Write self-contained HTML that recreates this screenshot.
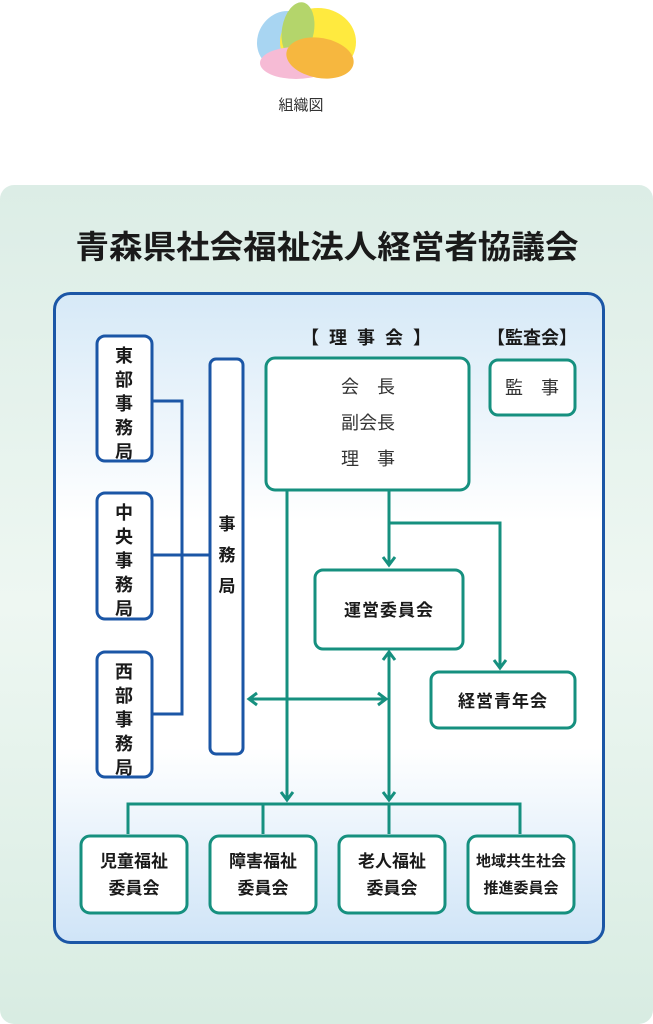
<!DOCTYPE html>
<html><head><meta charset="utf-8"><style>
html,body{margin:0;padding:0;background:#fff;}
svg{display:block;}
text{font-family:"Liberation Sans","Noto Sans CJK JP",sans-serif;}
</style></head><body>
<svg width="653" height="1024" viewBox="0 0 653 1024" xmlns="http://www.w3.org/2000/svg">
<defs>
<linearGradient id="outer" x1="0" y1="0" x2="0" y2="1">
<stop offset="0" stop-color="#dcede6"/><stop offset="0.5" stop-color="#eef7f2"/><stop offset="1" stop-color="#d8ece2"/>
</linearGradient>
<linearGradient id="inner" x1="0" y1="0" x2="0" y2="1">
<stop offset="0" stop-color="#d6e9f7"/><stop offset="0.35" stop-color="#ffffff"/><stop offset="0.7" stop-color="#ffffff"/><stop offset="1" stop-color="#cfe4f7"/>
</linearGradient>
</defs>
<g opacity="0.75">
<ellipse cx="285" cy="40" rx="27" ry="30" transform="rotate(35 285 40)" fill="#8cc8ee"/>
<ellipse cx="318" cy="42" rx="38" ry="34" fill="#ffe300"/>
<ellipse cx="298" cy="30" rx="16" ry="28" transform="rotate(10 298 30)" fill="#9cc83a"/>
<ellipse cx="296" cy="63" rx="36" ry="16" fill="#f3a5c8"/>
<ellipse cx="320" cy="58" rx="34" ry="20" transform="rotate(10 320 58)" fill="#f3a000"/>
</g>
<text x="301" y="110" font-size="15" fill="#333" text-anchor="middle">組織図</text>

<rect x="0" y="185" width="653" height="839" rx="14" fill="url(#outer)"/>
<text x="327" y="258" font-size="32" font-weight="bold" fill="#1a1a1a" text-anchor="middle" textLength="503" lengthAdjust="spacingAndGlyphs">青森県社会福祉法人経営者協議会</text>

<rect x="54.5" y="293.5" width="549" height="649" rx="16" fill="url(#inner)" stroke="#1b56a6" stroke-width="3"/>

<g stroke="#1b56a6" stroke-width="3" fill="none">
<path d="M153 401 H182 V714 H153 M153 555 H209"/>
</g>
<g fill="#fff" stroke="#1b56a6" stroke-width="3">
<rect x="97" y="336" width="55" height="125" rx="8"/>
<rect x="97" y="493" width="55" height="126" rx="8"/>
<rect x="97" y="652" width="55" height="125" rx="8"/>
<rect x="210" y="359" width="33" height="395" rx="6"/>
</g>
<g font-size="18" font-weight="bold" fill="#1a1a1a" text-anchor="middle">
<text x="124" y="362">東</text><text x="124" y="386">部</text><text x="124" y="410">事</text><text x="124" y="434">務</text><text x="124" y="458">局</text>
<text x="124" y="519">中</text><text x="124" y="543">央</text><text x="124" y="567">事</text><text x="124" y="591">務</text><text x="124" y="615">局</text>
<text x="124" y="678">西</text><text x="124" y="702">部</text><text x="124" y="726">事</text><text x="124" y="750">務</text><text x="124" y="774">局</text>
<text x="227" y="530" font-size="17">事</text><text x="227" y="561" font-size="17">務</text><text x="227" y="592" font-size="17">局</text>
</g>

<g stroke="#16907f" stroke-width="3" fill="none">
<path d="M287 490 V800"/>
<path d="M389 490 V565"/>
<path d="M389 523 H500 V668"/>
<path d="M389 652 V800"/>
<path d="M249 699 H386"/>
<path d="M128 834 V804 H520 V834 M263 804 V834 M389 804 V834"/>
<path d="M281 792 L287 800 L293 792"/>
<path d="M383 792 L389 800 L395 792"/>
<path d="M383 557 L389 565 L395 557"/>
<path d="M494 660 L500 668 L506 660"/>
<path d="M383 660 L389 652 L395 660"/>
<path d="M257 693 L249 699 L257 705"/>
<path d="M378 693 L386 699 L378 705"/>
</g>

<g fill="#fff" stroke="#16907f" stroke-width="3">
<rect x="266" y="358" width="203" height="132" rx="9"/>
<rect x="490" y="360" width="85" height="55" rx="8"/>
<rect x="315" y="570" width="148" height="79" rx="8"/>
<rect x="431" y="672" width="144" height="56" rx="8"/>
<rect x="81" y="836" width="106" height="77" rx="9"/>
<rect x="210" y="836" width="106" height="77" rx="9"/>
<rect x="339" y="836" width="106" height="77" rx="9"/>
<rect x="468" y="836" width="106" height="77" rx="9"/>
</g>

<g fill="#1a1a1a" text-anchor="middle">
<text x="366" y="344" font-size="18" font-weight="bold" textLength="130" lengthAdjust="spacing">【理事会】</text>
<text x="532" y="344" font-size="18" font-weight="bold">【監査会】</text>
<text x="368" y="393" font-size="18" fill="#333" xml:space="preserve">会　長</text>
<text x="368" y="429" font-size="18" fill="#333">副会長</text>
<text x="368" y="465" font-size="18" fill="#333" xml:space="preserve">理　事</text>
<text x="532" y="394" font-size="18" fill="#333" xml:space="preserve">監　事</text>
<text x="389" y="616" font-size="17" font-weight="bold" letter-spacing="1">運営委員会</text>
<text x="503" y="707" font-size="17" font-weight="bold" letter-spacing="1">経営青年会</text>
<g font-size="17" font-weight="bold">
<text x="134" y="867">児童福祉</text><text x="134" y="894">委員会</text>
<text x="263" y="867">障害福祉</text><text x="263" y="894">委員会</text>
<text x="392" y="867">老人福祉</text><text x="392" y="894">委員会</text>
</g>
<text x="521" y="866" font-size="15" font-weight="bold">地域共生社会</text>
<text x="521" y="893" font-size="15" font-weight="bold">推進委員会</text>
</g>
</svg>
</body></html>
